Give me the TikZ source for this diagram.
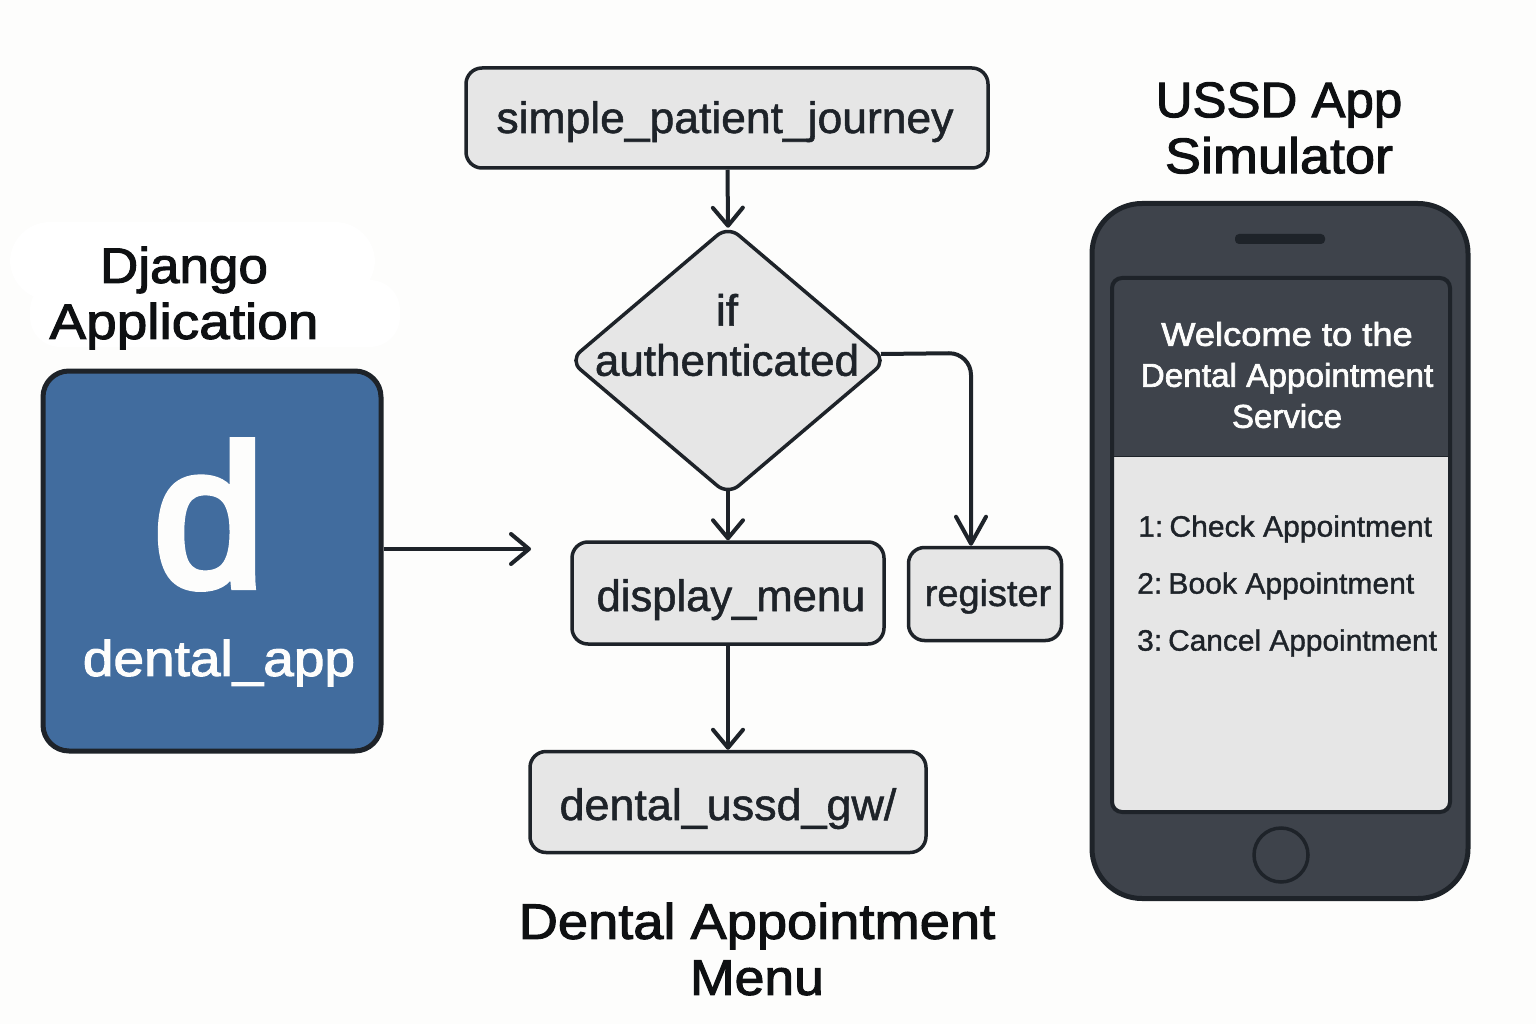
\documentclass[tikz,border=0pt]{standalone}
\usepackage{fontspec}
\setmainfont{Liberation Sans}
\newfontfamily\medf[FakeBold=1.2]{Liberation Sans}
\newfontfamily\semif[FakeBold=2.0]{Liberation Sans}
\newfontfamily\heavyf[FakeBold=4.0]{Liberation Sans}
\usetikzlibrary{shapes.geometric,arrows.meta}
\newcommand{\fs}[1]{\fontsize{#1}{#1}\selectfont}
\newcommand{\hs}[2]{\scalebox{#1}[1]{#2}}
\tikzset{
 x=1pt,y=-1pt,
 ink/.style={draw=inkc,line width=3.5pt},
 flowbox/.style={ink,fill=boxc,rounded corners=16pt,inner sep=0pt,text=inkc,font=\medf\fs{44},text depth=0pt},
 barbtip/.style={-{Straight Barb[length=18pt,width=30pt,line width=4pt,round]}},
 longbarb/.style={-{Straight Barb[length=27pt,width=30pt,line width=4pt,round]}},
 conn/.style={draw=inkc,line width=4pt,barbtip},
 title/.style={align=center,text=blackc,font=\semif\fs{50},inner sep=0pt},
 phonetxt/.style={text=inkc,font=\medf\fs{29.5},inner sep=0pt,anchor=west},
}
\definecolor{inkc}{HTML}{1E2329}
\definecolor{blackc}{HTML}{0E1012}
\definecolor{boxc}{HTML}{E6E6E6}
\definecolor{bgc}{HTML}{FDFDFC}
\definecolor{bluec}{HTML}{416C9E}
\definecolor{phonec}{HTML}{3E434B}
\begin{document}
\begin{tikzpicture}
\useasboundingbox (0,0) rectangle (1536,1024);
\fill[bgc] (0,0) rectangle (1536,1024);
\fill[white,rounded corners=40pt] (10,222) rectangle (375,300);
\fill[white,rounded corners=30pt] (30,280) rectangle (400,347);
% Flow nodes
\node[flowbox,minimum width=522pt,minimum height=100pt,text height=30pt] (journey) at (727,118) {\hspace{-4pt}\hs{1.01}{simple\_patient\_journey}};
\node[ink,fill=boxc,diamond,rounded corners=14pt,minimum width=318pt,minimum height=270pt,inner sep=0pt] (auth) at (728,360.5) {};
\node[text=inkc,font=\medf\fs{44},align=center,inner sep=0pt] (authtxt) at (727,335) {if\\[6pt]authenticated};
\node[flowbox,minimum width=312pt,minimum height=102pt,text height=36pt] (menu) at (728,593) {\hspace{6pt}\hs{0.99}{display\_menu}};
\node[flowbox,minimum width=153pt,minimum height=93pt,font=\medf\fs{37},text height=24pt] (reg) at (985,594) {\hspace{6pt}\hs{1.025}{register}};
\node[flowbox,minimum width=396pt,minimum height=101pt,text height=36pt] (gw) at (728,802) {\hs{1.02}{dental\_ussd\_gw/}};
\coordinate (regout) at (881,354);
\draw[conn,shorten >=-4pt] (journey) -- (auth.north);
\draw[conn,shorten <=-6pt] (auth) -- (menu);
\draw[conn] (menu) -- (gw);
\draw[conn,longbarb,rounded corners=22pt] (regout) -- (971,353) -- (reg.north -| 971,353);
% Django
\node[title] (djt) at (184,298) {\hs{1.06}{Django}\\[6pt]\hs{1.1}{Application}};
\node[draw=inkc,line width=5pt,fill=bluec,rounded corners=26pt,minimum width=338pt,minimum height=380pt,inner sep=0pt] (app) at (212,561) {};
\node[text=bgc,font=\heavyf\fs{200},inner sep=0pt,anchor=base] (dl) at (209,586) {d};
\node[text=bgc,font=\semif\fs{50},inner sep=0pt] (dapp) at (219,663) {\hs{1.1}{dental\_app}};
\coordinate (arrend) at (531,549);
\draw[conn] (app.east |- arrend) -- (arrend);
% title below
\node[title] (dam) at (757,949) {\hs{1.085}{Dental Appointment}\\[6pt]\hs{1.07}{Menu}};
% Phone
\node[title] (ussd) at (1279,128) {\hs{1.02}{USSD App}\\[6pt]\hs{1.08}{Simulator}};
\node[draw=inkc,line width=5pt,fill=phonec,rounded corners=50pt,minimum width=376pt,minimum height=695pt,inner sep=0pt] (phone) at (1280,551) {};
\node[fill=inkc,rounded corners=4pt,minimum width=90pt,minimum height=10pt,inner sep=0pt] (spk) at (1280,239) {};
\node[fill=boxc,rounded corners=10pt,minimum width=338pt,minimum height=534pt,inner sep=0pt] (screen) at (1281,545) {};
\fill[phonec,rounded corners=10pt] (1112,456) [sharp corners] -- (1112,290) [rounded corners=10pt] -- (1112,278) -- (1450,278) [sharp corners] -- (1450,456) -- cycle;
\draw[inkc,line width=1pt] (1114,456) -- (1448,456);
\node[draw=inkc,line width=4pt,rounded corners=10pt,minimum width=338pt,minimum height=534pt,inner sep=0pt] (screenrim) at (1281,545) {};
\node[text=bgc,font=\semif\fs{33},align=center,inner sep=0pt] (wel) at (1287,375) {\hs{1.1}{Welcome to the}\\[8pt]\hs{1.01}{Dental Appointment}\\[8pt]Service};
\node[phonetxt] (o1) at (1138,529) {\hs{1.02}{1:\hspace{6pt}Check Appointment}};
\node[phonetxt] (o2) at (1137,586) {\hs{1.02}{2:\hspace{6pt}Book Appointment}};
\node[phonetxt] (o3) at (1137,643) {\hs{1.012}{3:\hspace{6pt}Cancel Appointment}};
\node[circle,draw=inkc,line width=3.5pt,fill=phonec,minimum size=54pt,inner sep=0pt] (home) at (1281,855) {};
\end{tikzpicture}
\end{document}
